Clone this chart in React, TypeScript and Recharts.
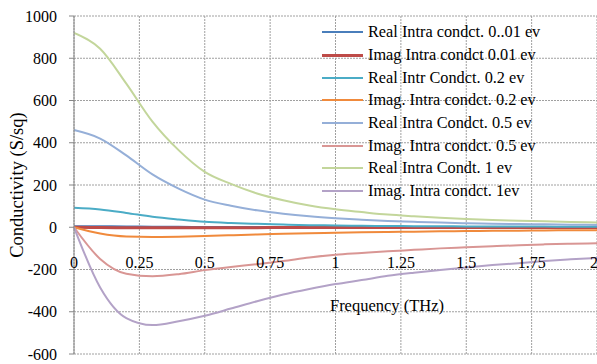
import { LineChart, Line, XAxis, YAxis, CartesianGrid, ReferenceLine, Legend } from 'recharts'

const freq = [0, 0.1, 0.2, 0.3, 0.4, 0.5, 0.6, 0.7, 0.8, 0.9, 1, 1.1, 1.2, 1.3, 1.4, 1.5, 1.6, 1.7, 1.8, 1.9, 2]

const realIntra001 = [5, 4.6, 3.7, 2.7, 2, 1.4, 1.1, 0.9, 0.7, 0.6, 0.5, 0.4, 0.35, 0.3, 0.25, 0.22, 0.2, 0.18, 0.16, 0.14, 0.12]
const imagIntra001 = [0, -1.6, -2.4, -2.5, -2.4, -2.2, -2, -1.8, -1.6, -1.5, -1.4, -1.3, -1.2, -1.1, -1, -1, -0.9, -0.9, -0.8, -0.8, -0.7]
const realIntra02 = [92, 84, 68, 50, 37, 26, 20, 16, 13, 10, 8.5, 7, 6, 5, 4.5, 4, 3.5, 3, 3, 2.5, 2.3]
const imagIntra02 = [0, -30, -44, -46, -45, -42, -38, -34, -31, -28, -26, -24, -22, -21, -19, -18, -17, -16, -15, -14.5, -14]
const realIntra05 = [460, 420, 340, 250, 183, 131, 102, 80, 64, 52, 43, 36, 30, 26, 22, 19, 17, 15, 14, 12, 11]
const imagIntra05 = [0, -150, -220, -232, -222, -203, -188, -175, -160, -143, -130, -122, -114, -107, -100, -95, -90, -85, -81, -78, -76]
const realIntra1 = [920, 845, 680, 500, 365, 262, 205, 160, 128, 103, 85, 72, 60, 52, 45, 39, 34, 31, 28, 25, 23]
const imagIntra1 = [0, -285, -430, -463, -445, -419, -385, -350, -318, -292, -269, -250, -230, -215, -202, -190, -179, -170, -160, -152, -145]

const xTicks = [0, 0.25, 0.5, 0.75, 1, 1.25, 1.5, 1.75, 2]
const yTicks = [-600, -400, -200, 0, 200, 400, 600, 800, 1000]

const series = [
  { key: 'r001', name: 'Real Intra condct. 0..01 ev', values: realIntra001, color: '#4A7EBB', width: 2 },
  { key: 'i001', name: 'Imag Intra condct 0.01 ev', values: imagIntra001, color: '#BE4B48', width: 3 },
  { key: 'r02', name: 'Real Intr Condct. 0.2 ev', values: realIntra02, color: '#4BACC6', width: 2 },
  { key: 'i02', name: 'Imag. Intra condct. 0.2 ev', values: imagIntra02, color: '#F08A3C', width: 2 },
  { key: 'r05', name: 'Real Intra Condct. 0.5 ev', values: realIntra05, color: '#95AFD8', width: 2 },
  { key: 'i05', name: 'Imag. Intra condct. 0.5 ev', values: imagIntra05, color: '#D99694', width: 2 },
  { key: 'r1', name: 'Real Intra Condt. 1 ev', values: realIntra1, color: '#C3D69B', width: 2 },
  { key: 'i1', name: 'Imag. Intra condct. 1ev', values: imagIntra1, color: '#B3A2C7', width: 2 },
]

const data = freq.map((f, i) => {
  const row: Record<string, number> = { f }
  series.forEach(s => { row[s.key] = s.values[i] })
  return row
})

const font = "'Liberation Serif', 'Times New Roman', serif"

// labels sit just under the zero line, like Excel's crossing axis
const FreqTick = (props: any) => {
  const last = props.payload.value === 2
  return (
    <text x={last ? props.x + 1 : props.x} y={props.y} dy={-86} textAnchor={last ? 'end' : 'middle'} style={{ fontFamily: font }} fontSize={16} fill="#000">
      {props.payload.value}
    </text>
  )
}

const LegendBox = () => (
  <div style={{ fontFamily: font, fontSize: 16.3, color: '#000' }}>
    {series.map(s => (
      <div key={s.key} style={{ display: 'flex', alignItems: 'center', height: 22.7, whiteSpace: 'nowrap' }}>
        <span style={{ display: 'inline-block', width: 41, height: s.width, background: s.color, marginRight: 5 }} />
        <span>{s.name}</span>
      </div>
    ))}
  </div>
)

export default function App() {
  return (
    <div>
      <style>{'body{margin:0}'}</style>
      <LineChart width={597} height={364} data={data} margin={{ top: 16, right: 0, bottom: 0, left: 0 }} style={{ fontFamily: font }}>
        <CartesianGrid stroke="#a0a0a0" strokeDasharray="2 1" horizontalValues={yTicks} verticalValues={xTicks} />
        <XAxis
          dataKey="f"
          type="number"
          domain={[0, 2]}
          ticks={xTicks}
          height={10}
          axisLine={false}
          tickLine={false}
          tickSize={0}
          tickMargin={0}
          tick={<FreqTick />}
          interval={0}
        />
        <YAxis
          type="number"
          domain={[-600, 1000]}
          ticks={yTicks}
          width={74}
          interval={0}
          axisLine={{ stroke: '#868686' }}
          tickLine={{ stroke: '#868686' }}
          tickSize={5}
          tickMargin={12}
          tick={{ fontSize: 16, fill: '#000', style: { fontFamily: font } }}
        />
        <ReferenceLine y={0} stroke="#868686" />
        <Legend
          layout="horizontal"
          verticalAlign="middle"
          align="center"
          wrapperStyle={{ left: 322, top: 21, width: 260 }}
          content={<LegendBox />}
        />
        {series.map(s => (
          <Line
            key={s.key}
            type="monotone"
            dataKey={s.key}
            name={s.name}
            stroke={s.color}
            strokeWidth={s.width}
            dot={false}
            isAnimationActive={false}
          />
        ))}
        <text x={17} y={185} transform="rotate(-90 17 185)" textAnchor="middle" dominantBaseline="central" style={{ fontFamily: font }} fontSize={18.5} fill="#000">
          Conductivity (S/sq)
        </text>
        <text x={387} y={305} textAnchor="middle" dominantBaseline="central" style={{ fontFamily: font }} fontSize={16.5} fill="#000">
          Frequency (THz)
        </text>
      </LineChart>
    </div>
  )
}
